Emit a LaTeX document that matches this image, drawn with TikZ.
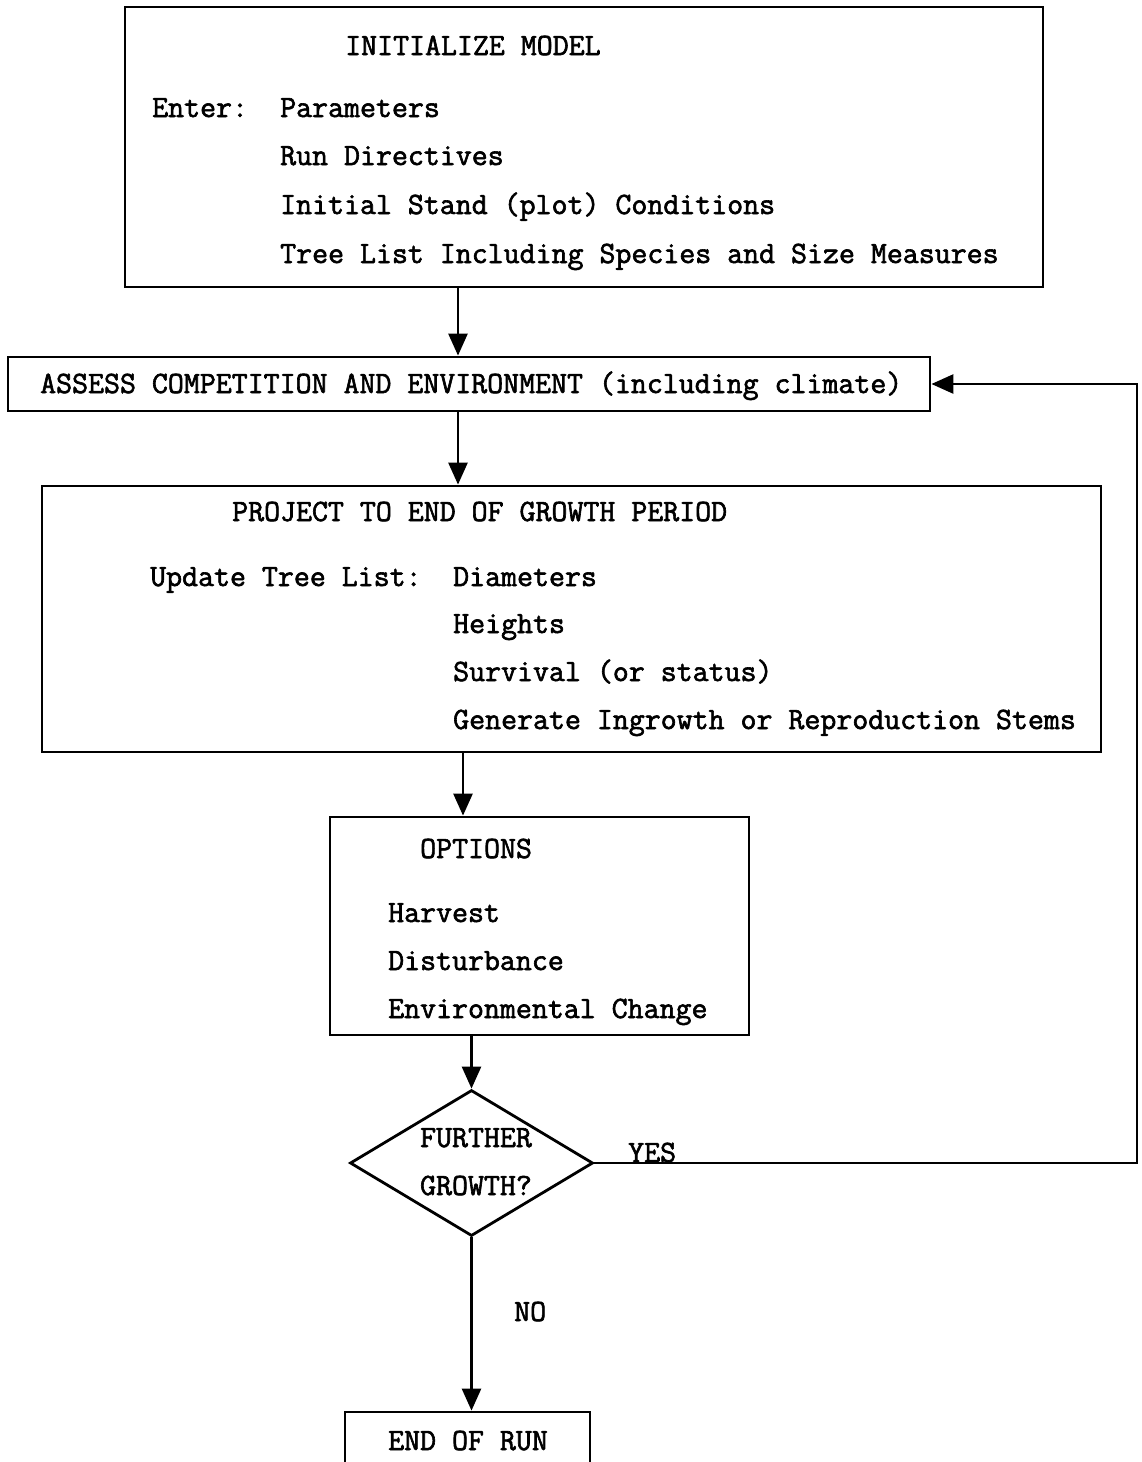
\documentclass[tikz,border=0pt]{standalone}
\usepackage{fontspec}
\newfontfamily\tw{Latin Modern Mono}[FakeBold=2]
\usetikzlibrary{arrows.meta,shapes.geometric}
\begin{document}
\begin{tikzpicture}[x=1pt,y=-1pt,
  box/.style={draw,line width=2.8pt,inner sep=0pt},
  txt/.style={inner sep=0pt,anchor=base west,font=\tw\fontsize{31}{36}\selectfont},
  ctxt/.style={inner sep=0pt,anchor=base,font=\tw\fontsize{31}{36}\selectfont},
  arr/.style={line width=2.6pt,-{Triangle[length=22pt,width=19pt]}},
  ln/.style={line width=2.6pt}]
\useasboundingbox[fill=white] (0,0) rectangle (1142,1462);
% boxes
\node[box,minimum width=918pt,minimum height=280pt] (b1) at (584,147) {};
\node[box,minimum width=922pt,minimum height=54pt] (b2) at (469,384) {};
\node[box,minimum width=1059pt,minimum height=266pt] (b3) at (571.5,619) {};
\node[box,minimum width=419pt,minimum height=218pt] (b4) at (539.5,926) {};
\node[box,diamond,minimum width=243pt,minimum height=146pt,aspect=1.66] (dia) at (471.5,1163) {};
\node[box,minimum width=245pt,minimum height=80pt] (end) at (467.5,1452) {};
% texts
\node[txt] (t1) at (345,55) {INITIALIZE MODEL};
\node[txt] (t2) at (152,117) {Enter:};
\node[txt] (t3) at (280,117) {Parameters};
\node[txt] (t4) at (280,165) {Run Directives};
\node[txt] (t5) at (280,214) {Initial Stand (plot) Conditions};
\node[txt] (t6) at (280,263) {Tree List Including Species and Size Measures};
\node[txt] (t7) at (40,393) {ASSESS COMPETITION AND ENVIRONMENT (including climate)};
\node[txt] (t8) at (232,521) {PROJECT TO END OF GROWTH PERIOD};
\node[txt] (t9) at (150,586) {Update Tree List:};
\node[txt] (t10) at (453,586) {Diameters};
\node[txt] (t11) at (453,633) {Heights};
\node[txt] (t12) at (453,681) {Survival (or status)};
\node[txt] (t13) at (453,729) {Generate Ingrowth or Reproduction Stems};
\node[txt] (t14) at (420,858) {OPTIONS};
\node[txt] (t15) at (388,922) {Harvest};
\node[txt] (t16) at (388,970) {Disturbance};
\node[txt] (t17) at (388,1018) {Environmental Change};
\node[ctxt] (t18) at (476,1147) {FURTHER};
\node[ctxt] (t19) at (476,1195) {GROWTH?};
\node[txt] (t20) at (628,1162) {YES};
\node[txt] (t21) at (514,1321) {NO};
\node[txt] (t22) at (388,1450) {END OF RUN};
% connectors
\draw[arr] (458,0 |- b1.south) -- (458,0 |- b2.north);
\draw[arr] (458,0 |- b2.south) -- (458,0 |- b3.north);
\draw[arr] (463,0 |- b3.south) -- (463,0 |- b4.north);
\draw[arr] (dia.north |- b4.south) -- (dia.north);
\draw[arr] (dia.south) -- (dia.south |- end.north);
\coordinate (rc) at (1137,1163);
\draw[arr] (dia.east) -- (rc) |- (b2.east);
\end{tikzpicture}
\end{document}
